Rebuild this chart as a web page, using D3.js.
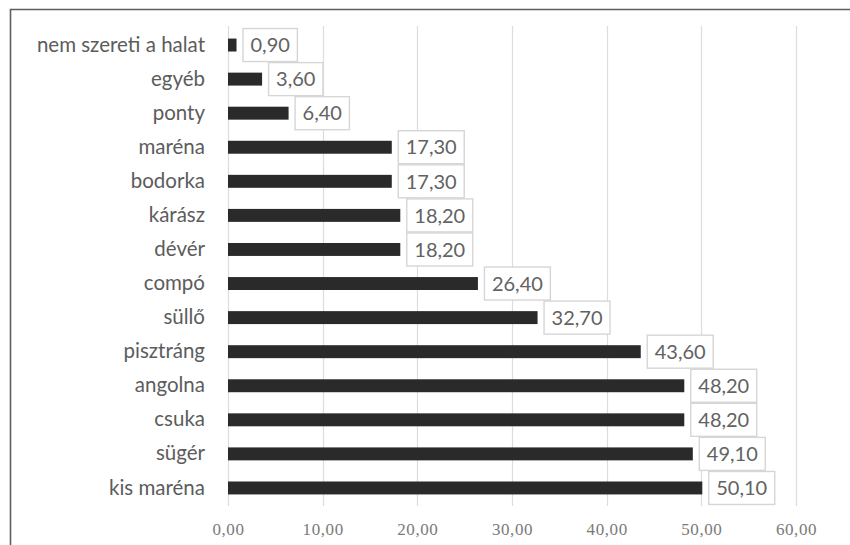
<!DOCTYPE html>
<html>
<head>
<meta charset="utf-8">
<script src="https://cdn.jsdelivr.net/npm/d3@7"></script>
<style>
    body { margin: 0; background: #fff; }
    svg { display: block; }
</style>
</head>
<body>
<svg id="chart" width="850" height="545"></svg>
<script>
var categories = ["nem szereti a halat", "egyéb", "ponty", "maréna", "bodorka", "kárász", "dévér",
    "compó", "süllő", "pisztráng", "angolna", "csuka", "sügér", "kis maréna"];
var values = [0.90, 3.60, 6.40, 17.30, 17.30, 18.20, 18.20, 26.40, 32.70, 43.60, 48.20, 48.20, 49.10, 50.10];
var xTicks = [0, 10, 20, 30, 40, 50, 60];

(function () {
    var svg = d3.select("#chart");
    var data = categories.map(function (c, i) { return { name: c, value: values[i] }; });

    var huLocale = d3.formatLocale({ decimal: ",", thousands: " ", grouping: [3], currency: ["", ""] });
    var fmt = huLocale.format(".2f");

    // outer frame, only top and left sides are in view
    svg.append("path")
        .attr("d", "M10.5,545 L10.5,9.5 L850,9.5")
        .attr("fill", "none")
        .attr("stroke", "#5e5e5e")
        .attr("stroke-width", 1.6);

    var x = d3.scaleLinear()
        .domain([0, 60])
        .range([228, 796]);

    var y = d3.scaleBand()
        .domain(categories)
        .range([28, 505])
        .paddingInner(0.62)
        .paddingOuter(0.31);

    // gridlines
    svg.append("g")
        .selectAll("line")
        .data(xTicks)
        .enter().append("line")
        .attr("x1", function (d) { return Math.round(x(d)) + 0.5; })
        .attr("x2", function (d) { return Math.round(x(d)) + 0.5; })
        .attr("y1", 26)
        .attr("y2", 506)
        .attr("stroke", "#dcdcdc")
        .attr("stroke-width", 1.2);

    // x axis labels
    var xAxis = svg.append("g")
        .attr("transform", "translate(0,506)")
        .call(d3.axisBottom(x).tickValues(xTicks).tickFormat(fmt).tickSize(0).tickPadding(17));
    xAxis.select(".domain").remove();
    xAxis.selectAll("text")
        .attr("fill", "#7a7a7a")
        .style("font-family", "'Liberation Serif', 'DejaVu Serif', serif")
        .style("font-size", "17px")
        .style("letter-spacing", "0.6px");

    // category labels
    var yAxis = svg.append("g")
        .attr("transform", "translate(228,0)")
        .call(d3.axisLeft(y).tickSize(0).tickPadding(23));
    yAxis.select(".domain").remove();
    yAxis.selectAll("text")
        .attr("fill", "#5c5c5c")
        .style("font-family", "Lato, 'Open Sans', sans-serif")
        .style("font-size", "20.5px");

    // bars
    svg.selectAll(".bar")
        .data(data)
        .enter().append("rect")
        .attr("class", "bar")
        .attr("x", x(0))
        .attr("y", function (d) { return y(d.name); })
        .attr("width", function (d) { return x(d.value) - x(0); })
        .attr("height", y.bandwidth())
        .attr("fill", "#2a2a2a");

    // data labels with boxes
    var lab = svg.selectAll(".lab")
        .data(data)
        .enter().append("g")
        .attr("class", "lab");

    var boxH = 33;
    lab.append("text")
        .attr("x", function (d) { return x(d.value) + 14; })
        .attr("y", function (d) { return y(d.name) + y.bandwidth() / 2; })
        .attr("dy", "0.36em")
        .attr("fill", "#626262")
        .style("font-family", "Lato, 'Open Sans', sans-serif")
        .style("font-size", "20px")
        .text(function (d) { return fmt(d.value); });

    lab.insert("rect", "text")
        .attr("x", function (d) { return x(d.value) + 6.5; })
        .attr("y", function (d) { return y(d.name) + y.bandwidth() / 2 - boxH / 2; })
        .attr("width", function () {
            var t = d3.select(this.parentNode).select("text").node();
            return t.getComputedTextLength() + 15;
        })
        .attr("height", boxH)
        .attr("fill", "#fff")
        .attr("stroke", "#d6d6d6")
        .attr("stroke-width", 1.4);
})();
</script>
</body>
</html>
